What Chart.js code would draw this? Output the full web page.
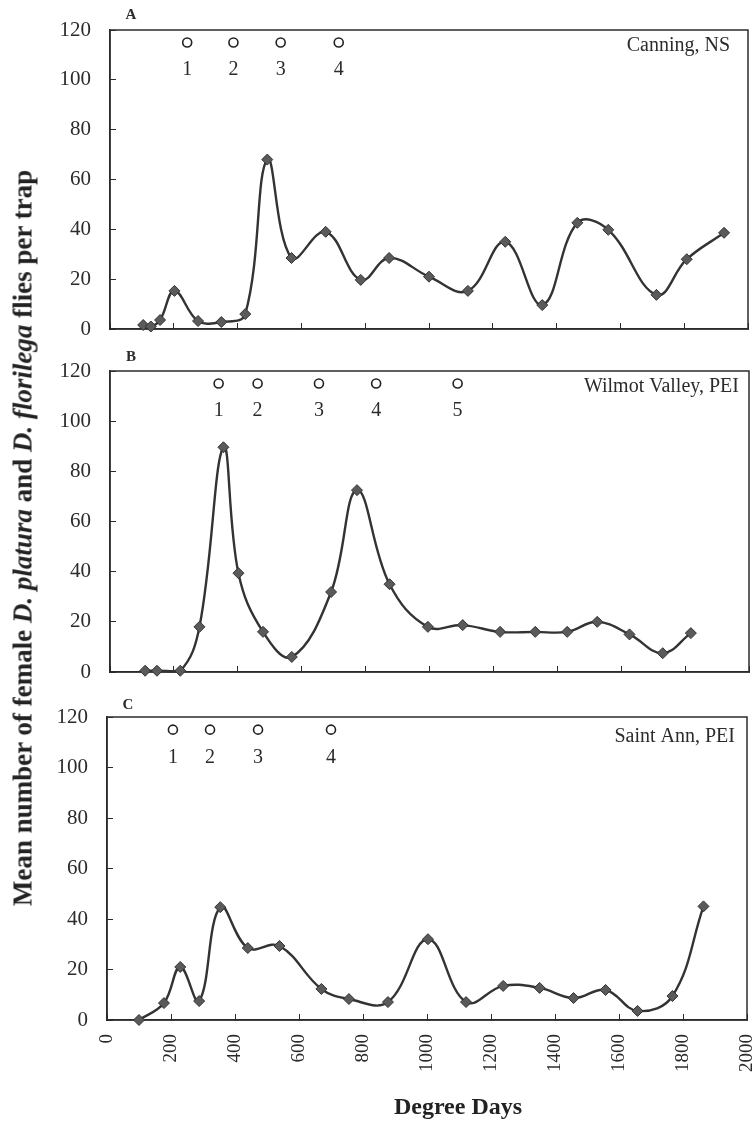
<!DOCTYPE html>
<html>
<head>
<meta charset="utf-8">
<script src="https://cdn.jsdelivr.net/npm/chart.js@4.4.1/dist/chart.umd.min.js"></script>
<style>
  body { margin: 0; background: #fff; width: 756px; height: 1124px; position: relative; overflow: hidden; font-family: "Liberation Serif", serif; color: #222; }
  canvas { position: absolute; left: 0; }
  #ytitle { position: absolute; left: 23px; top: 538px; transform: translate(-50%, -50%) rotate(-90deg); white-space: nowrap; font-weight: bold; font-size: 27px; }
  #xtitle { position: absolute; left: 458px; top: 1106px; transform: translate(-50%, -50%); white-space: nowrap; font-weight: bold; font-size: 24px; }
</style>
</head>
<body>
<canvas id="panelA" width="756" height="340" style="top:0"></canvas>
<canvas id="panelB" width="756" height="340" style="top:340px"></canvas>
<canvas id="panelC" width="756" height="444" style="top:680px"></canvas>
<div id="ytitle">Mean number of female <i>D. platura</i> and <i>D. florilega</i> flies per trap</div>
<div id="xtitle">Degree Days</div>
<script>
// degree days and mean flies per trap
const degA = [104, 128, 157, 202, 276, 349, 424, 493, 569, 676, 786, 875, 1000, 1122, 1239, 1355, 1465, 1562, 1713, 1808, 1925];
const fliesA = [1.6, 1, 3.6, 15.3, 3.2, 2.8, 6, 68, 28.5, 39, 19.7, 28.5, 21, 15.3, 35, 9.6, 42.6, 39.8, 13.7, 28, 38.6];

const degB = [110, 147, 220, 280, 355, 402, 479, 569, 692, 773, 875, 995, 1104, 1221, 1331, 1431, 1525, 1626, 1730, 1818];
const fliesB = [0.5, 0.5, 0.5, 18, 89.6, 39.4, 16, 6, 31.9, 72.5, 35, 18, 18.7, 16, 16, 16, 20, 15, 7.5, 15.5];

const degC = [100, 178, 229, 288, 354, 440, 539, 670, 756, 878, 1003, 1122, 1238, 1352, 1458, 1558, 1658, 1767, 1864];
const fliesC = [0, 6.7, 21, 7.5, 44.7, 28.5, 29.3, 12.3, 8.3, 7.1, 32, 7.1, 13.5, 12.7, 8.7, 11.9, 3.6, 9.5, 45];

// generation markers (circles with numbers) at the top of each panel
const genA = [242, 387, 535, 717];
const genB = [340, 462, 654, 833, 1088];
const genC = [206, 322, 472, 700];

const yTicks = [0, 20, 40, 60, 80, 100, 120];
const xTicks = [0, 200, 400, 600, 800, 1000, 1200, 1400, 1600, 1800, 2000];

const GEN_Y = 115;
const GEN_NUM_Y = 104;
const INK = '#2b2b2b';
const SERIF = '"Liberation Serif", "Times New Roman", serif';

// frame around the plot + panel letter, site name and generation numbers
const panelDeco = {
  id: 'panelDeco',
  beforeDatasetsDraw(chart, args, opts) {
    const a = chart.chartArea, ctx = chart.ctx;
    ctx.save();
    ctx.strokeStyle = INK;
    ctx.lineWidth = 1.5;
    ctx.strokeRect(a.left, a.top, a.right - a.left, a.bottom - a.top);
    ctx.restore();
  },
  afterDatasetsDraw(chart, args, opts) {
    const a = chart.chartArea, ctx = chart.ctx;
    ctx.save();
    ctx.fillStyle = INK;
    ctx.textBaseline = 'middle';
    ctx.font = 'bold 15px ' + SERIF;
    ctx.textAlign = 'center';
    ctx.fillText(opts.letter, a.left + 21, a.top + opts.letterDy);
    ctx.font = '20px ' + SERIF;
    ctx.textAlign = 'right';
    ctx.fillText(opts.site, a.right - opts.siteDx, a.top + opts.siteDy);
    ctx.font = '20px ' + SERIF;
    ctx.textAlign = 'center';
    const yPix = chart.scales.y.getPixelForValue(GEN_NUM_Y);
    chart.getDatasetMeta(1).data.forEach((pt, i) => {
      ctx.fillText(String(i + 1), pt.x, yPix);
    });
    ctx.restore();
  }
};

function noPad(s) {
  s.paddingLeft = 0; s.paddingRight = 0; s.paddingTop = 0; s.paddingBottom = 0;
}

function makePanel(id, deg, flies, gens, o) {
  const series = deg.map((d, i) => ({ x: d, y: flies[i] }));
  const genPts = gens.map(d => ({ x: d, y: GEN_Y }));
  return new Chart(document.getElementById(id), {
    type: 'line',
    data: {
      datasets: [{
        data: series,
        borderColor: '#333',
        borderWidth: 2.4,
        tension: 0.4,
        pointStyle: 'rectRot',
        pointRadius: 5.5,
        pointBackgroundColor: '#5a5a5a',
        pointBorderColor: '#333',
        pointBorderWidth: 1,
        clip: false
      }, {
        data: genPts,
        showLine: false,
        pointStyle: 'circle',
        pointRadius: 4.5,
        pointBackgroundColor: '#fff',
        pointBorderColor: '#222',
        pointBorderWidth: 1.6
      }]
    },
    options: {
      responsive: false,
      animation: false,
      layout: { autoPadding: false, padding: { top: o.top, right: o.right, left: 0, bottom: 0 } },
      plugins: {
        legend: { display: false },
        tooltip: { enabled: false },
        panelDeco: { letter: o.letter, site: o.site, letterDy: o.letterDy, siteDx: o.siteDx, siteDy: o.siteDy }
      },
      scales: {
        x: {
          type: 'linear',
          min: 0, max: 2000,
          afterBuildTicks: s => { s.ticks = xTicks.map(v => ({ value: v })); },
          afterFit: s => { s.height = o.xHeight; noPad(s); },
          grid: { drawOnChartArea: false, tickLength: -6, color: INK, lineWidth: 1 },
          border: { color: INK, width: 1.5 },
          ticks: {
            display: o.xLabels,
            minRotation: 90, maxRotation: 90,
            padding: 20,
            color: INK,
            font: { family: SERIF, size: 19 },
            callback: v => String(v)
          }
        },
        y: {
          min: 0, max: 120,
          afterBuildTicks: s => { s.ticks = yTicks.map(v => ({ value: v })); },
          afterFit: s => { s.width = o.left; noPad(s); },
          grid: { drawOnChartArea: false, tickLength: -6, color: INK, lineWidth: 1 },
          border: { color: INK, width: 1.5 },
          ticks: { padding: 25, color: INK, font: { family: SERIF, size: 21 } }
        }
      }
    },
    plugins: [panelDeco]
  });
}

makePanel('panelA', degA, fliesA, genA, {
  top: 30, right: 8, left: 110, xHeight: 11, xLabels: false,
  letter: 'A', letterDy: -15, site: 'Canning, NS', siteDx: 18, siteDy: 16
});
makePanel('panelB', degB, fliesB, genB, {
  top: 31, right: 7, left: 110, xHeight: 8, xLabels: false,
  letter: 'B', letterDy: -14, site: 'Wilmot Valley, PEI', siteDx: 10, siteDy: 16
});
makePanel('panelC', degC, fliesC, genC, {
  top: 37, right: 9, left: 107, xHeight: 104, xLabels: true,
  letter: 'C', letterDy: -12, site: 'Saint Ann, PEI', siteDx: 12, siteDy: 20
});
</script>
</body>
</html>
